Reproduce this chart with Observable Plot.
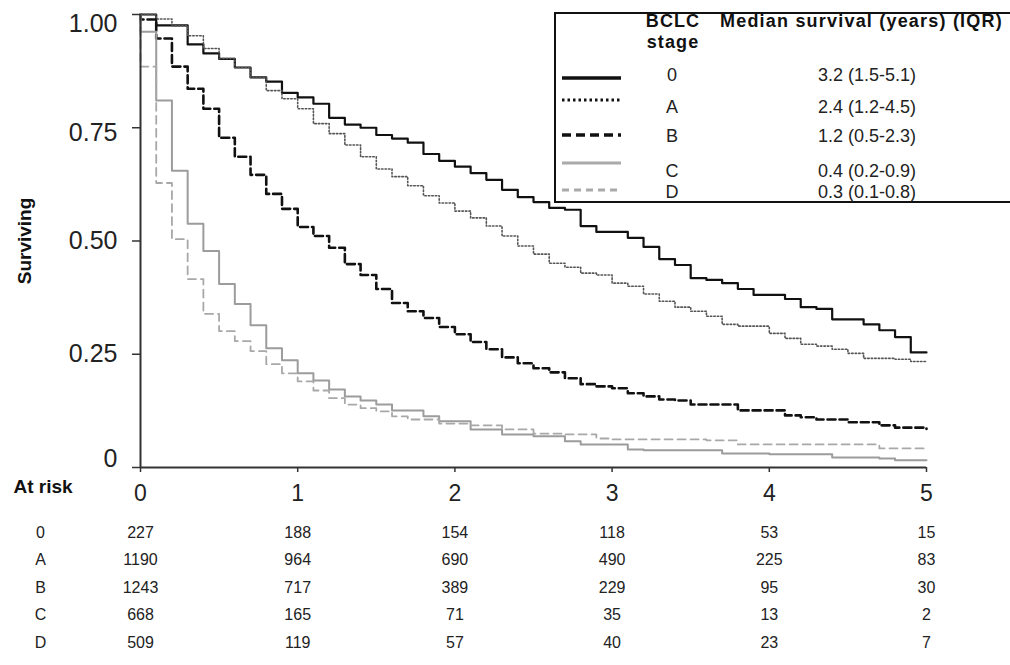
<!DOCTYPE html>
<html>
<head>
<meta charset="utf-8">
<script src="https://cdn.jsdelivr.net/npm/d3@7"></script>
<script src="https://cdn.jsdelivr.net/npm/@observablehq/plot@0.6"></script>
<style>
  html, body { margin: 0; padding: 0; background: #fff; }
  #chart { width: 1010px; height: 665px; overflow: hidden; }
</style>
</head>
<body>
<div id="chart"></div>
<script>
// ---------------- DATA ----------------
const stages = ["0", "A", "B", "C", "D"];
const medians = ["3.2 (1.5-5.1)", "2.4 (1.2-4.5)", "1.2 (0.5-2.3)", "0.4 (0.2-0.9)", "0.3 (0.1-0.8)"];

// time (years); first two entries both 0 (start at 1.0, then initial drop)
const times = [0, 0, 0.1, 0.2, 0.3, 0.4, 0.5, 0.6, 0.7, 0.8, 0.9,
  1.0, 1.1, 1.2, 1.3, 1.4, 1.5, 1.6, 1.7, 1.8, 1.9,
  2.0, 2.1, 2.2, 2.3, 2.4, 2.5, 2.6, 2.7, 2.8, 2.9,
  3.0, 3.1, 3.2, 3.3, 3.4, 3.5, 3.6, 3.7, 3.8, 3.9,
  4.0, 4.1, 4.2, 4.3, 4.4, 4.5, 4.6, 4.7, 4.8, 4.9, 5.0];

const survival0 = [1.000, 1.000, 0.976, 0.976, 0.934, 0.914, 0.902, 0.883, 0.861, 0.852, 0.827,
  0.817, 0.803, 0.772, 0.757, 0.750, 0.734, 0.726, 0.717, 0.692, 0.677,
  0.664, 0.650, 0.635, 0.613, 0.597, 0.586, 0.573, 0.569, 0.533, 0.520,
  0.520, 0.507, 0.487, 0.460, 0.447, 0.418, 0.414, 0.407, 0.394, 0.381,
  0.381, 0.372, 0.354, 0.350, 0.327, 0.327, 0.316, 0.303, 0.288, 0.254, 0.254];
const survivalA = [1.000, 1.000, 0.990, 0.975, 0.953, 0.925, 0.903, 0.883, 0.861, 0.832, 0.814,
  0.792, 0.759, 0.737, 0.712, 0.686, 0.659, 0.642, 0.622, 0.600, 0.584,
  0.566, 0.551, 0.533, 0.511, 0.489, 0.471, 0.451, 0.442, 0.429, 0.425,
  0.407, 0.400, 0.383, 0.367, 0.354, 0.345, 0.334, 0.316, 0.312, 0.312,
  0.296, 0.285, 0.272, 0.268, 0.261, 0.252, 0.241, 0.241, 0.239, 0.234, 0.234];
const survivalB = [1.000, 0.989, 0.947, 0.885, 0.836, 0.792, 0.728, 0.686, 0.646, 0.604, 0.571,
  0.531, 0.511, 0.485, 0.449, 0.425, 0.394, 0.363, 0.345, 0.330, 0.310,
  0.294, 0.277, 0.261, 0.243, 0.230, 0.219, 0.210, 0.197, 0.184, 0.179,
  0.175, 0.164, 0.157, 0.150, 0.148, 0.139, 0.139, 0.139, 0.126, 0.126,
  0.126, 0.115, 0.111, 0.106, 0.106, 0.100, 0.100, 0.093, 0.088, 0.088, 0.085];
const survivalC = [1.000, 0.962, 0.810, 0.655, 0.538, 0.478, 0.405, 0.361, 0.314, 0.263, 0.237,
  0.208, 0.192, 0.172, 0.157, 0.148, 0.139, 0.126, 0.126, 0.113, 0.102,
  0.102, 0.084, 0.084, 0.073, 0.073, 0.069, 0.069, 0.058, 0.051, 0.051,
  0.051, 0.040, 0.038, 0.038, 0.038, 0.038, 0.038, 0.031, 0.031, 0.031,
  0.029, 0.029, 0.029, 0.029, 0.022, 0.022, 0.022, 0.020, 0.016, 0.016, 0.016];
const survivalD = [1.000, 0.885, 0.628, 0.504, 0.416, 0.339, 0.301, 0.279, 0.257, 0.228, 0.208,
  0.190, 0.170, 0.153, 0.139, 0.131, 0.124, 0.113, 0.106, 0.106, 0.097,
  0.097, 0.093, 0.093, 0.084, 0.084, 0.075, 0.075, 0.073, 0.073, 0.064,
  0.062, 0.062, 0.062, 0.062, 0.062, 0.062, 0.060, 0.060, 0.051, 0.051,
  0.051, 0.051, 0.051, 0.051, 0.051, 0.051, 0.051, 0.042, 0.042, 0.042, 0.038];

const riskTimes = [0, 1, 2, 3, 4, 5];
const risk0 = [227, 188, 154, 118, 53, 15];
const riskA = [1190, 964, 690, 490, 225, 83];
const riskB = [1243, 717, 389, 229, 95, 30];
const riskC = [668, 165, 71, 35, 13, 2];
const riskD = [509, 119, 57, 40, 23, 7];

const xTicks = [0, 1, 2, 3, 4, 5];
const yTicks = [0, 0.25, 0.5, 0.75, 1];
const yTickLabels = ["0", "0.25", "0.50", "0.75", "1.00"];

// ---------------- STYLES / LAYOUT ----------------
const FONT = "'Liberation Sans', Arial, Helvetica, sans-serif";
const survival = [survival0, survivalA, survivalB, survivalC, survivalD];
const risk = [risk0, riskA, riskB, riskC, riskD];
const curveStyle = [
  {stroke: "#111", strokeWidth: 2.2, strokeDasharray: null},
  {stroke: "#555", strokeWidth: 1.6, strokeDasharray: "1.5,2"},
  {stroke: "#111", strokeWidth: 2.6, strokeDasharray: "8,4"},
  {stroke: "#9c9c9c", strokeWidth: 2, strokeDasharray: null},
  {stroke: "#a8a8a8", strokeWidth: 1.8, strokeDasharray: "8,5"}
];
const legendStyle = [
  {stroke: "#111", width: 3.5, dash: null},
  {stroke: "#111", width: 3, dash: "2.5,3"},
  {stroke: "#111", width: 3.5, dash: "9,5"},
  {stroke: "#aaa", width: 3, dash: null},
  {stroke: "#aaa", width: 3, dash: "7,5"}
];
const yLabelShift = [-9, 0, 0, 5, 9];
const axisColor = "#333";

const marks = [];

// curves
stages.forEach((st, i) => {
  const data = times.map((t, k) => ({stage: st, t, s: survival[i][k]}));
  marks.push(Plot.line(data, {
    x: "t", y: "s", curve: "step-after",
    stroke: curveStyle[i].stroke,
    strokeWidth: curveStyle[i].strokeWidth,
    strokeDasharray: curveStyle[i].strokeDasharray
  }));
});

// axis lines
marks.push(Plot.ruleY([0], {stroke: axisColor, strokeWidth: 2}));
marks.push(Plot.ruleX([0], {stroke: axisColor, strokeWidth: 2}));

// y ticks
marks.push(Plot.axisY({ticks: yTicks, tickSize: 8, tickFormat: () => "", label: null, stroke: axisColor, strokeWidth: 1.5}));
yTicks.forEach((v, i) => {
  marks.push(Plot.axisY({
    ticks: [v], tickSize: 0, tickPadding: 23, label: null,
    tickFormat: () => yTickLabels[i],
    fontSize: 25, dy: yLabelShift[i], fill: "#222"
  }));
});

// x axis
marks.push(Plot.axisX({
  ticks: xTicks, tickSize: 5, tickPadding: 12, label: null,
  tickFormat: d => String(d), fontSize: 23, stroke: axisColor, strokeWidth: 1.5, fill: "#222"
}));

// y label
marks.push(Plot.text(["Surviving"], {
  text: d => d, frameAnchor: "left", dx: -116, rotate: -90, textAnchor: "middle",
  fontWeight: "bold", fontSize: 19, fill: "#111"
}));

// At risk
marks.push(Plot.text(["At risk"], {
  text: d => d, frameAnchor: "bottom-left", dx: -127, dy: 25,
  textAnchor: "start", fontWeight: "bold", fontSize: 19, fill: "#111"
}));

stages.forEach((st, i) => {
  const rowDy = 70 + i * 27.5;
  marks.push(Plot.text([st], {
    text: d => d, frameAnchor: "bottom-left", dx: -100, dy: rowDy, textAnchor: "middle",
    fontSize: 16, fill: "#222"
  }));
  marks.push(Plot.text(riskTimes.map((t, j) => ({t, n: risk[i][j]})), {
    x: "t", text: d => String(d.n), frameAnchor: "bottom", dy: rowDy, fontSize: 16, fill: "#222"
  }));
});

const chart = Plot.plot({
  width: 1010,
  height: 665,
  marginLeft: 140,
  marginRight: 84,
  marginTop: 14,
  marginBottom: 198,
  style: {fontFamily: FONT, background: "#fff", color: "#222", overflow: "visible"},
  x: {domain: [0, 5], label: null},
  y: {domain: [0, 1], label: null},
  marks
});
document.getElementById("chart").appendChild(chart);

// ---------------- LEGEND (drawn into the SVG) ----------------
const svg = d3.select(chart);
const lg = svg.append("g").attr("font-family", FONT).attr("fill", "#111");
lg.append("rect")
  .attr("x", 555).attr("y", 13).attr("width", 470).attr("height", 189)
  .attr("fill", "#fff").attr("stroke", "#111").attr("stroke-width", 2);
lg.append("text").attr("x", 673).attr("y", 27).attr("text-anchor", "middle")
  .attr("font-weight", "bold").attr("font-size", 18).attr("letter-spacing", 1.1).text("BCLC");
lg.append("text").attr("x", 673).attr("y", 48).attr("text-anchor", "middle")
  .attr("font-weight", "bold").attr("font-size", 18).attr("letter-spacing", 1.1).text("stage");
lg.append("text").attr("x", 720).attr("y", 27).attr("text-anchor", "start")
  .attr("font-weight", "bold").attr("font-size", 18).attr("letter-spacing", 1.2).text("Median survival (years) (IQR)");

const lineY = [78, 100, 135, 163, 190];
const textY = [81, 113, 142, 177, 198];
stages.forEach((st, i) => {
  const s = legendStyle[i];
  const ln = lg.append("line")
    .attr("x1", 562).attr("x2", 621).attr("y1", lineY[i]).attr("y2", lineY[i])
    .attr("stroke", s.stroke).attr("stroke-width", s.width);
  if (s.dash) ln.attr("stroke-dasharray", s.dash);
  lg.append("text").attr("x", 672).attr("y", textY[i]).attr("text-anchor", "middle")
    .attr("font-size", 18).attr("fill", "#222").text(st);
  lg.append("text").attr("x", 867).attr("y", textY[i]).attr("text-anchor", "middle")
    .attr("font-size", 18).attr("fill", "#222").text(medians[i]);
});
</script>
</body>
</html>
